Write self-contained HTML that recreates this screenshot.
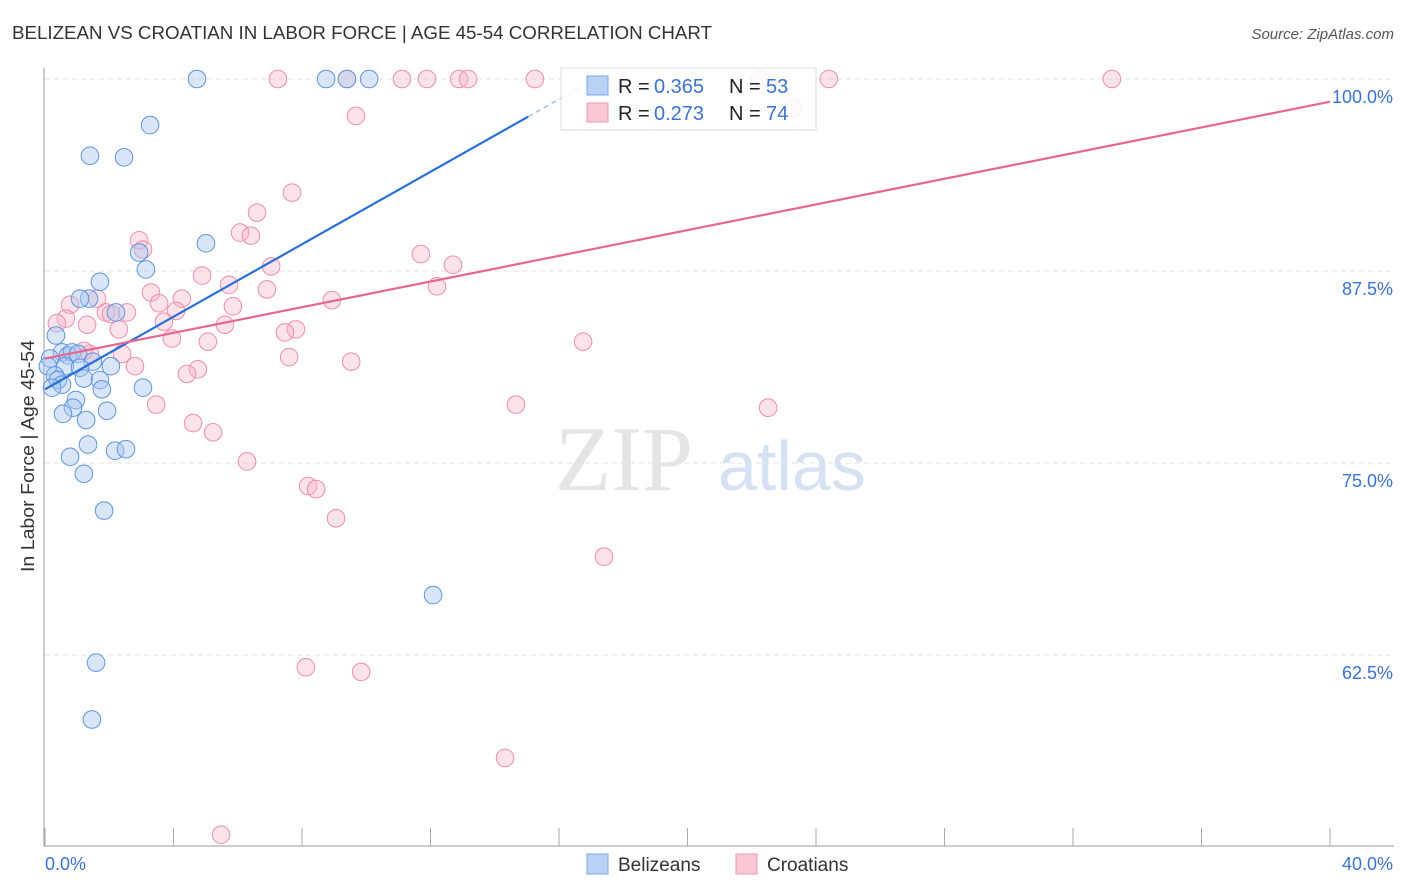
<!DOCTYPE html>
<html><head><meta charset="utf-8"><style>
body{margin:0;background:#fff;font-family:"Liberation Sans",sans-serif}
svg{display:block}
</style></head><body>
<svg id="chart" width="1406" height="892" font-family="Liberation Sans, sans-serif">
<text x="12" y="39" font-size="18" fill="#333" textLength="700" lengthAdjust="spacingAndGlyphs">BELIZEAN VS CROATIAN IN LABOR FORCE | AGE 45-54 CORRELATION CHART</text>
<text x="1394" y="39" font-size="15" fill="#555" font-style="italic" text-anchor="end">Source: ZipAtlas.com</text>
<text x="0" y="0" transform="translate(34,456) rotate(-90)" font-size="18.5" fill="#333" text-anchor="middle" textLength="232" lengthAdjust="spacingAndGlyphs">In Labor Force | Age 45-54</text>
<g id="grid"></g>
<g id="axes"></g>
<text x="555" y="490" font-size="92" fill="#e4e4e4" font-family="Liberation Serif, serif">ZIP</text>
<text x="718" y="490" font-size="70" fill="#d6e2f3">atlas</text>
<g id="pts"></g>
<g id="lines"></g>
<g>
<rect x="561" y="68" width="255" height="62" fill="#fff" fill-opacity="0.85" stroke="#ddd"/>
<rect x="587" y="76" width="21" height="19" fill="#b9d2f3" stroke="#7aa6e6"/>
<rect x="587" y="103" width="21" height="19" fill="#f9c9d7" stroke="#ee9ab3"/>
<g font-size="20">
<text x="618" y="93" fill="#222">R =</text><text x="654" y="93" fill="#3a73d3">0.365</text>
<text x="729" y="93" fill="#222">N =</text><text x="766" y="93" fill="#3a73d3">53</text></g>
<g font-size="20">
<text x="618" y="120" fill="#222">R =</text><text x="654" y="120" fill="#3a73d3">0.273</text>
<text x="729" y="120" fill="#222">N =</text><text x="766" y="120" fill="#3a73d3">74</text></g>
</g>
<g>
<rect x="587" y="854" width="21" height="20" fill="#b9d2f3" stroke="#7aa6e6"/>
<text x="618" y="871" font-size="19" fill="#333">Belizeans</text>
<rect x="736" y="854" width="21" height="20" fill="#f9c9d7" stroke="#ee9ab3"/>
<text x="767" y="871" font-size="19" fill="#333">Croatians</text>
</g>
</svg>
<script>
const yTicks=[100,87.5,75,62.5];
const yTickLabels=["100.0%","87.5%","75.0%","62.5%"];
const xEndLabels=["0.0%","40.0%"];
const blueX=[4.73,8.75,9.40,10.09,3.27,1.40,2.46,5.01,2.93,3.14,1.71,1.37,1.09,2.21,0.34,0.53,0.72,0.84,1.03,1.49,0.62,1.09,2.05,0.16,0.09,0.31,0.40,0.53,0.22,1.21,1.71,1.77,3.05,0.96,0.87,0.56,1.93,1.28,1.34,2.18,2.52,0.78,1.21,1.84,12.08,1.59,1.46];
const blueY=[100,100,100,100,97.0,95.0,94.9,89.3,88.7,87.6,86.8,85.7,85.7,84.8,83.3,82.2,82.0,82.2,82.1,81.6,81.3,81.2,81.3,81.8,81.3,80.7,80.4,80.1,79.9,80.5,80.4,79.8,79.9,79.1,78.6,78.2,78.4,77.8,76.2,75.8,75.9,75.4,74.3,71.9,66.4,62.0,58.3];
const pinkX=[7.25,9.40,11.11,11.89,12.89,13.17,15.25,22.26,24.40,33.21,23.28,9.68,7.69,6.60,6.07,6.41,2.93,3.05,7.04,4.89,5.73,6.91,3.30,4.26,1.62,0.78,3.55,8.93,5.85,2.55,1.90,4.08,0.65,2.05,0.37,3.70,5.60,1.31,2.30,7.81,7.47,3.95,5.07,2.40,1.40,7.60,9.53,2.80,4.76,4.42,3.46,4.61,5.23,6.29,8.19,8.44,9.06,11.70,12.70,12.20,16.75,14.66,22.51,17.40,8.12,9.84,14.32,5.48,1.21];
const pinkY=[100,100,100,100,100,100,100,100,100,100,98.1,97.6,92.6,91.3,90.0,89.8,89.5,88.9,87.8,87.2,86.6,86.3,86.1,85.7,85.7,85.3,85.4,85.6,85.2,84.8,84.8,84.9,84.4,84.7,84.1,84.2,84.0,84.0,83.7,83.7,83.5,83.1,82.9,82.1,82.1,81.9,81.6,81.3,81.1,80.8,78.8,77.6,77.0,75.1,73.5,73.3,71.4,88.6,87.9,86.5,82.9,78.8,78.6,68.9,61.7,61.4,55.8,50.8,82.3];
const blueTrend=[79.8,1.18]; // intercept, slope per %
const pinkTrend=[81.8,0.418];
const NS="http://www.w3.org/2000/svg";
const xs=v=>45+v*32.125, ys=v=>79+(100-v)*15.36;
function mk(tag,at,parent){const e=document.createElementNS(NS,tag);for(const k in at)e.setAttribute(k,at[k]);parent.appendChild(e);return e;}
const grid=document.getElementById('grid'),axes=document.getElementById('axes');
yTicks.forEach((t,i)=>{
 const l=mk('line',{x1:45,x2:1394,y1:ys(t),y2:ys(t),stroke:'#e2e2e2','stroke-dasharray':'5,4'},grid);
 
 
 const tx=mk('text',{x:1393,y:ys(t)+24,'font-size':18,fill:'#3a73d3','text-anchor':'end'},axes);
 tx.textContent=yTickLabels[i];
 
 
});
const ax=mk('line',{x1:44,x2:44,y1:68,y2:846,stroke:'#999'},axes);


const bx=mk('line',{x1:44,x2:1394,y1:846,y2:846,stroke:'#999'},axes);


for(let i=0;i<=10;i++){const tk=mk('line',{x1:xs(i*4),x2:xs(i*4),y1:828,y2:846,stroke:'#aaa'},axes);
 
 }
[[0,'start',45],[40,'end',1393]].forEach((d,i)=>{const t=mk('text',{x:d[2],y:870,'font-size':18,fill:'#3a73d3','text-anchor':d[1]},axes);t.textContent=xEndLabels[i];
 
 });
const pts=document.getElementById('pts');
pinkX.forEach((x,i)=>{const c=mk('circle',{cx:xs(x),cy:ys(pinkY[i]),r:8.8,fill:'#f7b6c9','fill-opacity':0.4,stroke:'#ec8fab','stroke-width':1},pts);
 
 });
blueX.forEach((x,i)=>{const c=mk('circle',{cx:xs(x),cy:ys(blueY[i]),r:8.8,fill:'#a9c7f0','fill-opacity':0.45,stroke:'#5f95e0','stroke-width':1},pts);
 
 });
const lines=document.getElementById('lines');
const b0=blueTrend[0],b1=blueTrend[1];
let l1=mk('line',{x1:xs(0),y1:ys(b0),x2:xs(15.04),y2:ys(b0+b1*15.04),stroke:'#2a6fd6','stroke-width':2.2},lines);


let l2=mk('line',{x1:xs(15.04),y1:ys(b0+b1*15.04),x2:xs(17.5),y2:ys(b0+b1*17.5),stroke:'#8fb3ea','stroke-width':1.2,'stroke-dasharray':'5,4'},lines);


let l3=mk('line',{x1:xs(0),y1:ys(pinkTrend[0]),x2:xs(40),y2:ys(pinkTrend[0]+pinkTrend[1]*40),stroke:'#e8668f','stroke-width':2.2},lines);


</script>
</body></html>
